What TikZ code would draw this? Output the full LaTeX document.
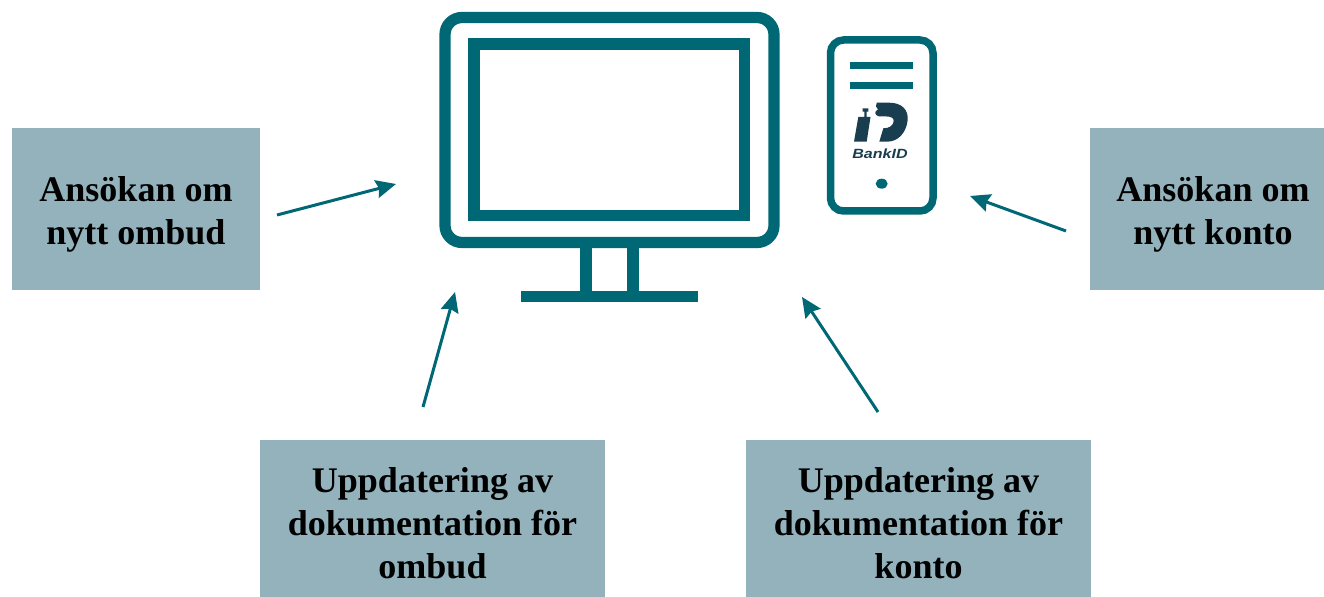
\documentclass[tikz,border=0pt]{standalone}
\usepackage{fontspec}
\setmainfont{Liberation Serif}
\newfontfamily\logofont{Liberation Sans}
\usetikzlibrary{arrows.meta,positioning}
\definecolor{tealc}{HTML}{006875}
\definecolor{boxc}{HTML}{93B2BC}
\definecolor{logoc}{HTML}{193E4F}
\tikzset{
  labelbox/.style={fill=boxc,inner sep=0pt},
  labeltext/.style={inner sep=0pt,align=center,font=\fontsize{20.5}{24.4}\bfseries\selectfont},
  flow/.style={draw=tealc,line width=.06cm,-{Stealth[length=.4cm,width=.36cm,inset=.05cm]}},
  icon/.style={draw=tealc,line width=.225cm},
  iconthin/.style={draw=tealc,line width=.15cm}
}
\begin{document}
\begin{tikzpicture}[x=.02cm,y=-.02cm]
\useasboundingbox (0,0) rectangle (1324,597);

% text boxes
\node (b0) at (136,209) [labelbox,minimum width=4.96cm,minimum height=3.24cm] {};
\node (b1) at (1207,209) [labelbox,minimum width=4.68cm,minimum height=3.24cm] {};
\node (b2) at (432.5,518.5) [labelbox,minimum width=6.9cm,minimum height=3.14cm] {};
\node (b3) at (918.5,518.5) [labelbox,minimum width=6.9cm,minimum height=3.14cm] {};

\node (t0) at (136,214) [labeltext] {Ansökan om\\nytt ombud};
\node (t1) at (1213,214) [labeltext] {Ansökan om\\nytt konto};
\node (t2) at (432.5,523) [labeltext] {Uppdatering av\\dokumentation för\\ombud};
\node (t3) at (918.5,523) [labeltext] {Uppdatering av\\dokumentation för\\konto};

% arrow ends
\coordinate (s0) at (277,215);
\coordinate (e0) at (396,184);
\coordinate (s1) at (1066,231);
\coordinate (e1) at (970,196);
\coordinate (s2) at (423,407);
\coordinate (e2) at (455,292);
\coordinate (s3) at (878,412);
\coordinate (e3) at (802,297);

\foreach \x in {0,1,2,3} {
\draw[flow] (s\x) -- (e\x);
};

% monitor
\draw[icon,rounded corners=.34cm] (445,17.5) rectangle (774,242.5);
\draw[icon] (474,44) rectangle (744.5,215.5);
\foreach \x in {586,633} {
\draw[icon] (\x,242) -- (\x,292);
};
\fill[tealc] (521.3,291) rectangle (697.7,302);

% phone
\draw[iconthin,rounded corners=.26cm] (830.5,40) rectangle (933,211);
\fill[tealc] (850,62) rectangle (913,69);
\fill[tealc] (850,82) rectangle (913,89);
\fill[tealc] (881.7,183.7) ellipse [x radius=6,y radius=5];

% bankid mark
\fill[logoc] (858.3,117) -- (864.3,117) -- (864.3,111.7) -- (862.7,111.7) -- (862.7,108.3) -- (868.3,108.3) -- (868.3,111.7) -- (866.7,111.7) -- (866.7,117) -- (870.5,117) -- (866.7,141.7) -- (854,141.7) -- cycle;
\fill[logoc] (876.7,102.7) -- (889,102.7) .. controls (902,102.7) and (909,110) .. (907.5,121) .. controls (906,133) and (898,141.7) .. (887,141.7) -- (879.3,141.7) -- (883.3,128.3) .. controls (889,128.5) and (893.5,125.5) .. (893.7,121) .. controls (894,117.5) and (890,116.5) .. (886.7,116.5) -- (879,116.5) .. controls (875,115.5) and (873.5,111.5) .. (878,109.5) .. controls (875.5,108) and (875.5,105) .. (876.7,102.7) -- cycle;
\node (bankid) at (880,154) [text=logoc,inner sep=0pt,xscale=1.2,font=\logofont\fontsize{7.6}{8}\bfseries\itshape\selectfont] {BankID};
\end{tikzpicture}
\end{document}
